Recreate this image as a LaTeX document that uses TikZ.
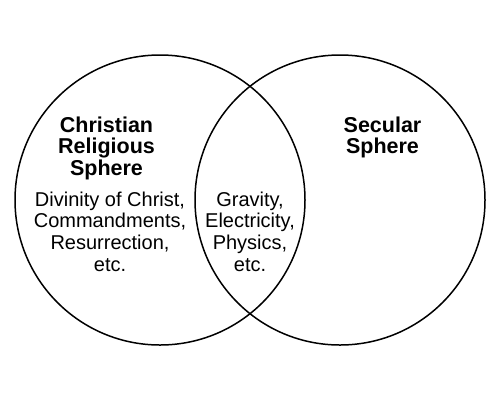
\documentclass[tikz,border=0pt]{standalone}
\usepackage{fontspec}
\setmainfont{Liberation Sans}
\begin{document}
\begin{tikzpicture}[x=1pt,y=-1pt,
  sphere/.style={circle,draw=black,line width=1.5pt,minimum size=290pt,inner sep=0pt},
  heading/.style={align=center,inner sep=0pt,anchor=base,font=\bfseries\fontsize{21.5}{21.7}\selectfont},
  body/.style={align=center,inner sep=0pt,anchor=base,font=\fontsize{20}{21.7}\selectfont}]
\useasboundingbox[fill=white] (0,0) rectangle (500,400);
\node[sphere] (L) at (160,200) {};
\node[sphere] (R) at (340,200) {};
\node[heading] (lt) at (106.5,175.4) {Christian\\Religious\\Sphere};
\node[heading] (rt) at (382.5,153.7) {Secular\\Sphere};
\node[body] (lb) at (110,271.1) {Divinity of Christ,\\Commandments,\\Resurrection,\\etc.};
\node[body] (mb) at (250,271.1) {Gravity,\\Electricity,\\Physics,\\etc.};
\end{tikzpicture}
\end{document}
